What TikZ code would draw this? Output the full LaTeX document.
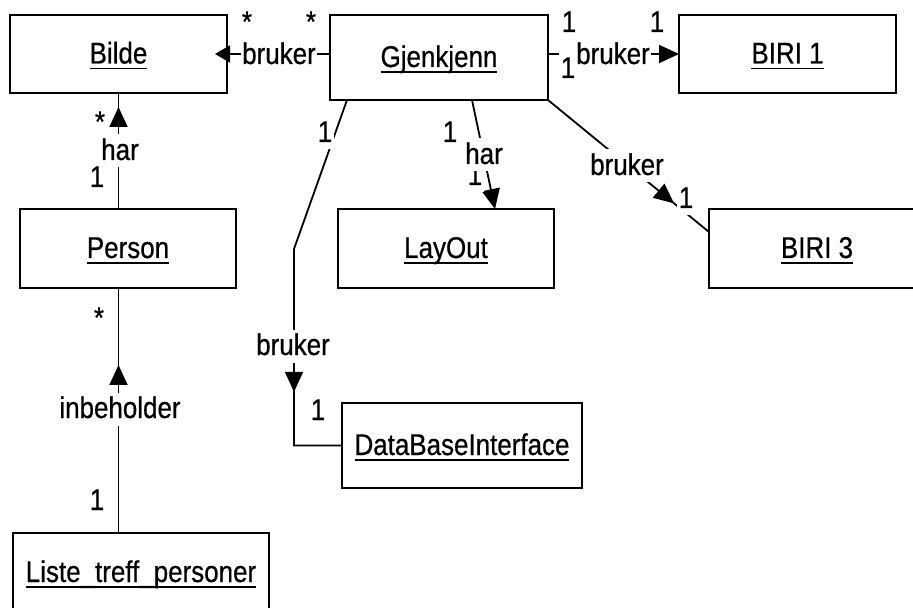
\documentclass[tikz,border=0pt]{standalone}
\usepackage{fontspec}
\setmainfont{Liberation Sans}[FakeStretch=0.865,FakeBold=0.6]
\usetikzlibrary{arrows.meta,decorations.markings}

% underlined class name with a fixed underline depth
\newcommand\ulname[1]{\setbox0=\hbox{#1}\rlap{\rule[-6bp]{\wd0}{1.8bp}}\box0}

\begin{document}
\begin{tikzpicture}[x=1bp,y=-1bp,
  font=\fontsize{30bp}{33bp}\selectfont,
  classbox/.style={draw, line width=2.2bp, rectangle, inner sep=0pt, outer sep=0pt,
                   text height=20bp, text depth=1bp},
  conn/.style={line width=1.8bp},
  lbl/.style={fill=white, inner sep=1.5bp, text height=24bp, text depth=6bp, anchor=base},
  assoctip/.tip={Triangle[length=20bp,width=18bp]},
  midarrow/.style={postaction={decorate,decoration={markings,
      mark=at position #1 with {\arrow{assoctip}}}}}
]
\useasboundingbox (0,0) rectangle (913,608);

% classes
\node[classbox, minimum width=217bp, minimum height=78bp] (Bilde)     at (118.5,54)  {\ulname{Bilde}};
\node[classbox, minimum width=218bp, minimum height=85bp] (Gjenkjenn) at (439,57.5)  {\ulname{Gjenkjenn}};
\node[classbox, minimum width=217bp, minimum height=78bp] (BIRI1)     at (787.5,54)  {\ulname{BIRI 1}};
\node[classbox, minimum width=216bp, minimum height=79bp] (Person)    at (128,248.5) {\ulname{Person}};
\node[classbox, minimum width=216bp, minimum height=79bp] (LayOut)    at (446,248.5) {\ulname{LayOut}};
\node[classbox, minimum width=216bp, minimum height=79bp] (BIRI3)     at (817,248.5) {\ulname{BIRI 3}};
\node[classbox, minimum width=240bp, minimum height=85bp] (DB)        at (462,445.5) {\ulname{DataBaseInterface}};
\node[classbox, minimum width=256bp, minimum height=79bp] (Liste)     at (141,572.5) {\ulname{Liste\_treff\_personer}};

% associations
\draw[conn, -{Triangle[length=15bp,width=17bp]}, shorten >=-12bp]
  (Gjenkjenn.west |- Bilde.east) -- (Bilde.east);
\draw[conn, -assoctip] (Gjenkjenn.east |- BIRI1.west) -- (BIRI1.west);
\draw[conn, midarrow=102bp] (Person.north -| Bilde.south) -- (Bilde.south);
\draw[conn, midarrow=168bp] (Liste.north -| Bilde.south) -- (Person.south -| Bilde.south);
\draw[conn, midarrow=301bp] ([xshift=17bp]Gjenkjenn.south west) -- ++(-53,149) |- (DB.west);
\draw[conn, -assoctip] ([xshift=142bp]Gjenkjenn.south west) -- ([xshift=157bp]LayOut.north west);
\draw[conn, midarrow=163bp] (Gjenkjenn.south east) -- ([yshift=-23bp]BIRI3.north west);

% association names and multiplicities
\node[lbl] (mBa)  at (247,32)  {*};
\node[lbl] (mGa)  at (311,32)  {*};
\node[lbl] (nGB)  at (279,64)  {bruker};
\node[lbl] (mGb)  at (569,32)  {1};
\node[lbl] (mGc)  at (568,78)  {1};
\node[lbl] (nGR1) at (613,64)  {bruker};
\node[lbl] (mR1)  at (657,32)  {1};

\node[lbl] (mBb)  at (100,132) {*};
\node[lbl] (nPB)  at (120,160) {har};
\node[lbl] (mPa)  at (97,187)  {1};

\node[lbl] (mPb)  at (99,328)  {*};
\node[lbl] (nLP)  at (120,418) {inbeholder};
\node[lbl] (mL)   at (97,510)  {1};

\node[lbl] (mGd)  at (325,142) {1};
\node[lbl] (nGD)  at (293,355) {bruker};
\node[lbl] (mD)   at (318,420) {1};

\node[lbl] (mGe)  at (450,142) {1};
\node[lbl] (mLy)  at (475,185) {1};
\node[lbl] (nGL)  at (484,164) {har};

\node[lbl] (nGR3) at (627,175) {bruker};
\node[lbl] (mR3)  at (686,208) {1};
\end{tikzpicture}
\end{document}
